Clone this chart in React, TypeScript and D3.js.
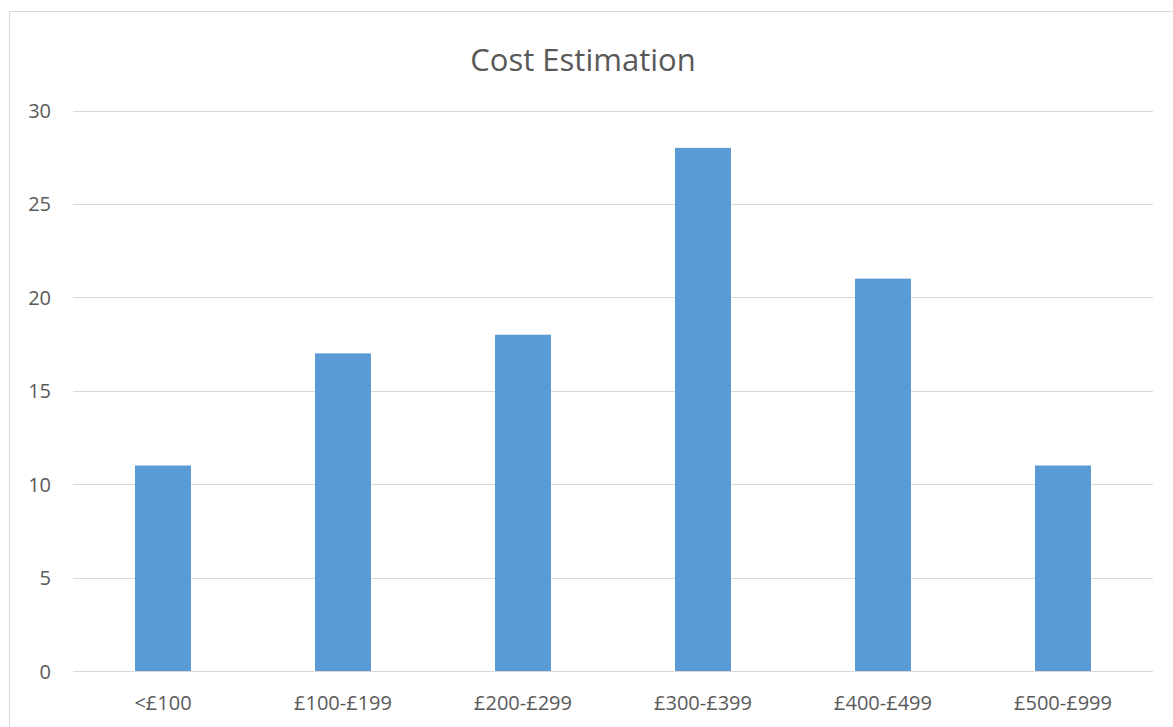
import React from "react";
import * as d3 from "d3";

const categories = ["<£100", "£100-£199", "£200-£299", "£300-£399", "£400-£499", "£500-£999"];
const values = [11, 17, 18, 28, 21, 11];
const yTicks = [0, 5, 10, 15, 20, 25, 30];
const title = "Cost Estimation";

export default function App() {
  const W = 1173, H = 727;
  const left = 73, right = 1153, top = 110.5, bottom = 671;
  const x = d3.scaleBand<string>().domain(categories).range([left, right]).paddingInner(0.689).paddingOuter(0.3445);
  const y = d3.scaleLinear().domain([0, 30]).range([bottom, top]);
  const font = "'Open Sans', 'Liberation Sans', sans-serif";
  const txt = "#595959";
  return (
    <svg width={W} height={H} style={{ position: "absolute", left: 0, top: 0 }} fontFamily={font}>
      <rect x={0} y={0} width={W} height={H} fill="#fff" />
      <rect x={9.5} y={11.5} width={W + 20} height={H + 20} fill="#fff" stroke="#d9d9d9" strokeWidth={1} />
      <text x={583} y={71} textAnchor="middle" fontSize={31} fill={txt}>{title}</text>
      {yTicks.map((t) => (
        <g key={t}>
          <line x1={left} x2={right} y1={Math.round(y(t)) + 0.5} y2={Math.round(y(t)) + 0.5} stroke="#d9d9d9" strokeWidth={1} />
          <text x={51} y={y(t) + 7.5} textAnchor="end" fontSize={20} fill={txt}>{t}</text>
        </g>
      ))}
      {categories.map((c, i) => (
        <rect key={c} x={x(c)!} y={y(values[i])} width={x.bandwidth()} height={y(0) - y(values[i])} fill="#5B9BD5" />
      ))}
      {categories.map((c) => (
        <text key={c} x={x(c)! + x.bandwidth() / 2} y={710} textAnchor="middle" fontSize={20} fill={txt}>{c}</text>
      ))}
    </svg>
  );
}
